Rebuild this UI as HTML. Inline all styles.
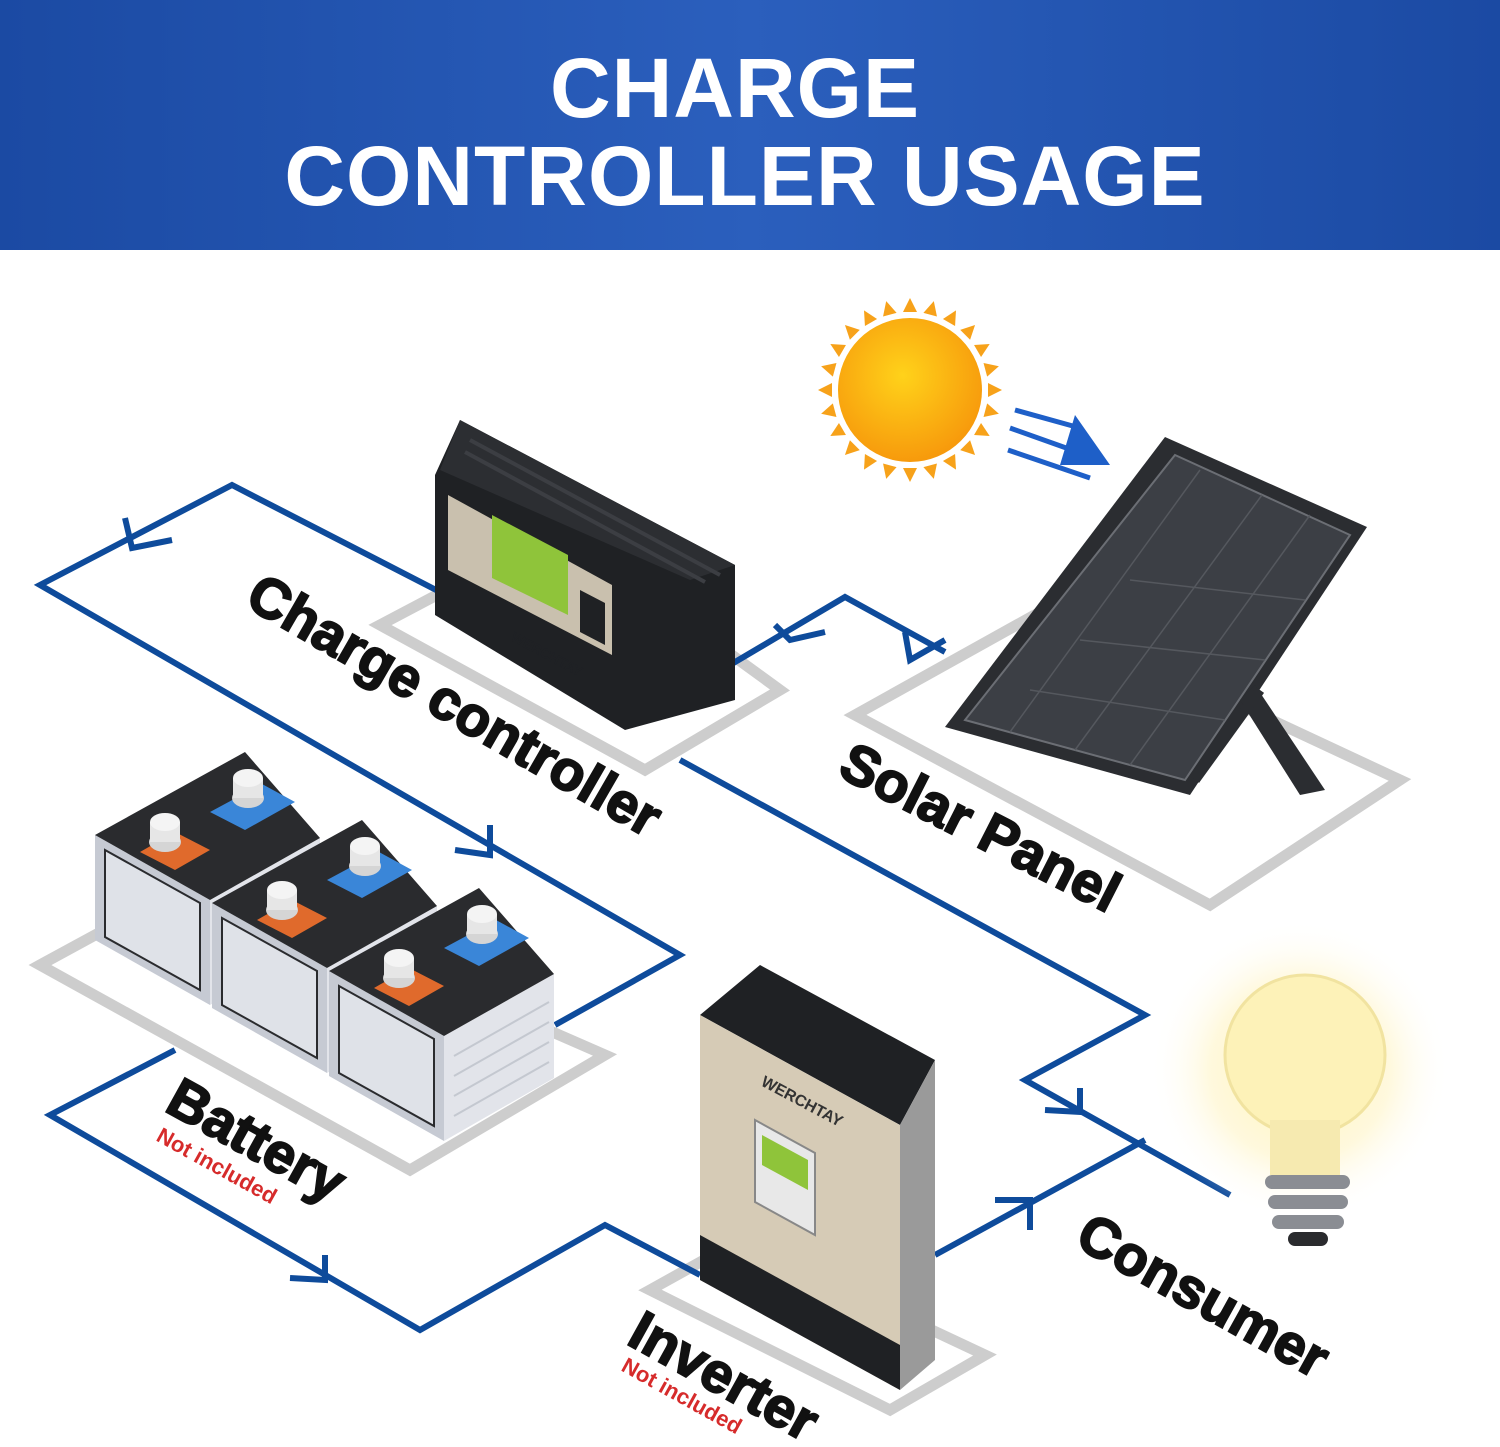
<!DOCTYPE html>
<html><head><meta charset="utf-8"><style>
html,body{margin:0;padding:0;background:#fff;}
body{width:1500px;height:1447px;overflow:hidden;position:relative;font-family:"Liberation Sans",sans-serif;}
.hdr{position:absolute;left:0;top:0;width:1500px;height:250px;background:linear-gradient(90deg,#1b4aa3,#2b5fbd 50%,#1b4aa3);}
.t{position:absolute;left:0;width:1500px;text-align:center;color:#fff;font-weight:bold;font-size:84px;letter-spacing:1px;}
</style></head><body>
<div class="hdr"></div>
<div class="t" style="top:40px;left:-15px;">CHARGE</div>
<div class="t" style="top:128px;left:-5px;">CONTROLLER USAGE</div>
<svg width="1500" height="1447" style="position:absolute;left:0;top:0" xmlns="http://www.w3.org/2000/svg">
<defs>
<radialGradient id="sun" cx="45%" cy="40%" r="60%"><stop offset="0" stop-color="#ffd21a"/><stop offset="1" stop-color="#f79a0c"/></radialGradient>
<radialGradient id="glow"><stop offset="0" stop-color="#fff3b0" stop-opacity="1"/><stop offset="0.6" stop-color="#fff6cf" stop-opacity="0.7"/><stop offset="1" stop-color="#fff" stop-opacity="0"/></radialGradient>
</defs>
<g fill="none" stroke="#cdcdcd" stroke-width="11" stroke-linejoin="miter">
<polygon points="380,625 560,530 780,690 645,770"/>
<polygon points="855,715 1040,612 1400,780 1210,905"/>
<polygon points="40,965 200,878 605,1055 410,1170"/>
<polygon points="650,1290 740,1240 985,1355 890,1410"/>
</g>
<g fill="none" stroke="#0e4b9b" stroke-width="6" stroke-linejoin="miter">
<polyline points="440,592 232,485 40,585 680,955 555,1025"/>
<polyline points="730,665 845,597 945,652"/>
<polyline points="680,760 1145,1015 1025,1080 1230,1195"/>
<polyline points="175,1050 50,1115 420,1330 605,1225 700,1275"/>
<polyline points="935,1255 1145,1140"/>
<polyline points="125,518 132,548 172,540"/>
<polyline points="455,850 490,855 490,825"/>
<polyline points="775,625 790,640 825,632"/>
<polyline points="905,632 910,660 945,640"/>
<polyline points="1045,1110 1080,1112 1080,1088"/>
<polyline points="995,1200 1030,1200 1030,1230"/>
<polyline points="290,1278 325,1280 325,1255"/>
</g>
<!-- sun rays -->
<g fill="#f7a21a" transform="translate(910,390)">
<polygon points="-7,-78 7,-78 0,-92" transform="rotate(0)"/>
<polygon points="-7,-78 7,-78 0,-92" transform="rotate(15)"/>
<polygon points="-7,-78 7,-78 0,-92" transform="rotate(30)"/>
<polygon points="-7,-78 7,-78 0,-92" transform="rotate(45)"/>
<polygon points="-7,-78 7,-78 0,-92" transform="rotate(60)"/>
<polygon points="-7,-78 7,-78 0,-92" transform="rotate(75)"/>
<polygon points="-7,-78 7,-78 0,-92" transform="rotate(90)"/>
<polygon points="-7,-78 7,-78 0,-92" transform="rotate(105)"/>
<polygon points="-7,-78 7,-78 0,-92" transform="rotate(120)"/>
<polygon points="-7,-78 7,-78 0,-92" transform="rotate(135)"/>
<polygon points="-7,-78 7,-78 0,-92" transform="rotate(150)"/>
<polygon points="-7,-78 7,-78 0,-92" transform="rotate(165)"/>
<polygon points="-7,-78 7,-78 0,-92" transform="rotate(180)"/>
<polygon points="-7,-78 7,-78 0,-92" transform="rotate(195)"/>
<polygon points="-7,-78 7,-78 0,-92" transform="rotate(210)"/>
<polygon points="-7,-78 7,-78 0,-92" transform="rotate(225)"/>
<polygon points="-7,-78 7,-78 0,-92" transform="rotate(240)"/>
<polygon points="-7,-78 7,-78 0,-92" transform="rotate(255)"/>
<polygon points="-7,-78 7,-78 0,-92" transform="rotate(270)"/>
<polygon points="-7,-78 7,-78 0,-92" transform="rotate(285)"/>
<polygon points="-7,-78 7,-78 0,-92" transform="rotate(300)"/>
<polygon points="-7,-78 7,-78 0,-92" transform="rotate(315)"/>
<polygon points="-7,-78 7,-78 0,-92" transform="rotate(330)"/>
<polygon points="-7,-78 7,-78 0,-92" transform="rotate(345)"/>
</g>
<circle cx="910" cy="390" r="72" fill="url(#sun)"/>
<g stroke="#1e5fc8" stroke-width="5" fill="none">
<line x1="1015" y1="410" x2="1080" y2="428"/><line x1="1010" y1="428" x2="1100" y2="460"/><line x1="1008" y1="450" x2="1090" y2="478"/>
</g>
<polygon points="1075,415 1110,465 1060,465" fill="#1e5fc8"/>
<!-- solar panel -->
<polygon points="1165,437 1367,527 1190,795 945,727" fill="#2b2d31"/>
<polygon points="1175,455 1350,535 1185,780 965,720" fill="#3c3f45" stroke="#6b6e74" stroke-width="2"/>
<g stroke="#55585e" stroke-width="1.5">
<line x1="1262" y1="495" x2="1075" y2="750"/>
<line x1="1200" y1="470" x2="1010" y2="732"/>
<line x1="1310" y1="515" x2="1130" y2="765"/>
<line x1="1130" y1="580" x2="1305" y2="600"/>
<line x1="1080" y1="640" x2="1265" y2="660"/>
<line x1="1030" y1="690" x2="1225" y2="720"/>
</g>
<polyline points="1255,685 1325,790 1300,795 1240,700" fill="#2b2d31"/>
<line x1="1195" y1="780" x2="1260" y2="690" stroke="#2b2d31" stroke-width="10"/>
<!-- charge controller -->
<polygon points="435,475 460,420 735,565 735,700 625,730 435,615" fill="#1f2124"/>
<polygon points="460,420 735,565 690,580 440,470" fill="#2c2e32"/>
<g stroke="#3c3e43" stroke-width="4">
<line x1="470" y1="440" x2="720" y2="575"/><line x1="465" y1="452" x2="705" y2="582"/>
</g>
<polygon points="448,495 612,585 612,655 448,570" fill="#c9c0ae"/>
<polygon points="492,515 568,555 568,615 492,578" fill="#8fc43a"/>
<polygon points="580,590 605,603 605,645 580,632" fill="#1f2124"/>
<text x="0" y="0" font-size="14" font-weight="bold" fill="#1f2124" transform="translate(510,640) rotate(28)">WERCHTAY</text>
<!-- batteries -->
<g id="bat">
<polygon points="95,835 210,900 210,1005 95,940" fill="#c6cad3"/>
<polygon points="105,850 200,903 200,990 105,937" fill="#dfe2e8" stroke="#2a2b2e" stroke-width="2"/>
<polygon points="210,900 320,838 320,942 210,1005" fill="#e2e4ea"/>
<g stroke="#c4c8d0" stroke-width="2"><line x1="220" y1="920" x2="315" y2="866"/><line x1="220" y1="940" x2="315" y2="886"/><line x1="220" y1="960" x2="315" y2="906"/><line x1="220" y1="980" x2="315" y2="926"/></g>
<polygon points="95,835 245,752 320,838 210,900" fill="#2a2b2e"/>
<polygon points="140,852 175,870 210,850 175,832" fill="#e06a2c"/>
<polygon points="210,812 245,830 295,802 262,784" fill="#3a86d8"/>
<ellipse cx="165" cy="842" rx="16" ry="10" fill="#d5d5d5"/><rect x="150" y="822" width="30" height="20" fill="#e6e6e6"/><ellipse cx="165" cy="822" rx="15" ry="9" fill="#f4f4f4"/>
<ellipse cx="248" cy="798" rx="16" ry="10" fill="#d5d5d5"/><rect x="233" y="778" width="30" height="20" fill="#e6e6e6"/><ellipse cx="248" cy="778" rx="15" ry="9" fill="#f4f4f4"/>
</g>
<use href="#bat" transform="translate(117,68)"/>
<use href="#bat" transform="translate(234,136)"/>
<!-- inverter -->
<polygon points="700,1015 760,965 935,1060 900,1125" fill="#1f2124"/>
<polygon points="700,1015 900,1125 900,1390 700,1280" fill="#d6cbb6"/>
<polygon points="700,1235 900,1345 900,1390 700,1280" fill="#1f2124"/>
<polygon points="900,1125 935,1060 935,1360 900,1390" fill="#9a9a9a"/>
<polygon points="755,1120 815,1153 815,1235 755,1202" fill="#e8e8e8" stroke="#888" stroke-width="2"/>
<polygon points="762,1135 808,1160 808,1190 762,1165" fill="#8fc43a"/>
<text x="0" y="0" font-size="16" font-weight="bold" fill="#333" transform="translate(760,1085) rotate(28)">WERCHTAY</text>
<!-- bulb -->
<circle cx="1300" cy="1070" r="150" fill="url(#glow)"/>
<circle cx="1305" cy="1055" r="80" fill="#fdf2b8" stroke="#f1e3a0" stroke-width="3"/>
<rect x="1270" y="1120" width="70" height="55" fill="#f6eab0"/>
<g fill="#8a8d93"><rect x="1265" y="1175" width="85" height="14" rx="7"/><rect x="1268" y="1195" width="80" height="14" rx="7"/><rect x="1272" y="1215" width="72" height="14" rx="7"/></g>
<rect x="1288" y="1232" width="40" height="14" rx="7" fill="#2a2b2e"/>
<!-- labels -->
<g font-family="Liberation Sans, sans-serif" font-weight="bold" fill="#111" stroke="#111" stroke-width="2">
<text transform="translate(243,605) rotate(30)" font-size="56">Charge controller</text>
<text transform="translate(836,775) rotate(27)" font-size="56">Solar Panel</text>
<text transform="translate(163,1110) rotate(29)" font-size="56">Battery</text>
<text transform="translate(625,1343) rotate(29)" font-size="56">Inverter</text>
<text transform="translate(1073,1245) rotate(29)" font-size="56">Consumer</text>
</g>
<g font-family="Liberation Sans, sans-serif" font-weight="bold" fill="#d62b2b">
<text transform="translate(155,1140) rotate(29)" font-size="22">Not included</text>
<text transform="translate(620,1370) rotate(29)" font-size="22">Not included</text>
</g>
</svg>
</body></html>
